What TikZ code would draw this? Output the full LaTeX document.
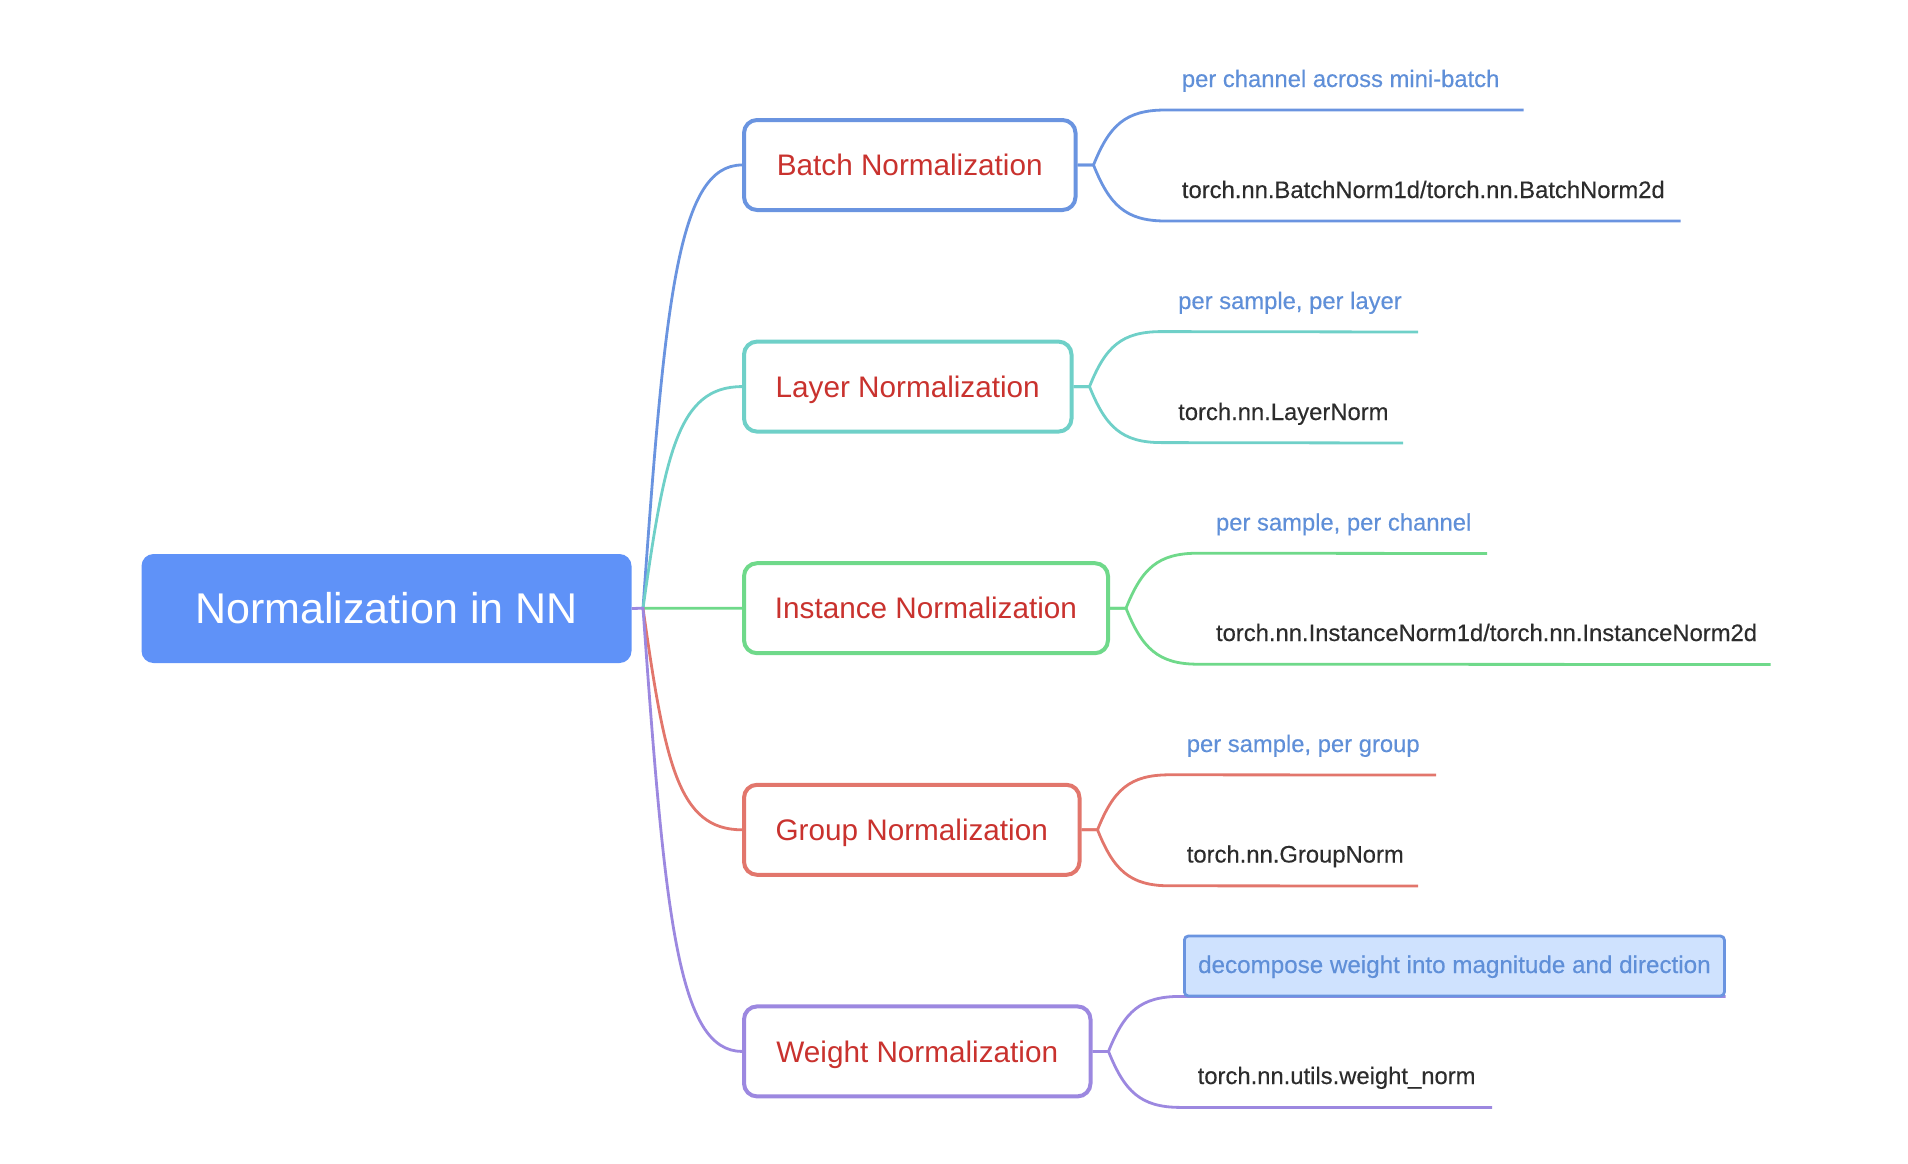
\documentclass[tikz,border=0pt]{standalone}
\usepackage{fontspec}
\setmainfont{Liberation Sans}
\newfontfamily\leaffont[FakeBold=0.35]{Liberation Sans}
\usepackage{tikz}
\usetikzlibrary{shapes,arrows}
\definecolor{rootblue}{HTML}{5F92F8}
\definecolor{batchc}{HTML}{6A94E0}
\definecolor{layerc}{HTML}{6FD0C8}
\definecolor{instc}{HTML}{6FD98A}
\definecolor{groupc}{HTML}{E2766C}
\definecolor{weightc}{HTML}{9C88E0}
\definecolor{redtext}{HTML}{C9322E}
\definecolor{bluetext}{HTML}{5F8FD8}
\definecolor{darktext}{HTML}{2C2C2C}
\definecolor{selfill}{HTML}{CFE2FE}
\tikzstyle{root} = [rectangle, fill=rootblue, text=white, rounded corners=12pt, minimum
    width=490pt, minimum height=109pt, text height=30.5pt, text depth=0pt, font=\fontsize{43}{50}\selectfont]
\tikzstyle{branch} = [rectangle, draw, line width=4pt, fill=white, text=redtext, rounded corners=13pt,
    inner xsep=0pt, minimum height=90pt, text height=21.5pt, text depth=0pt, anchor=west, font=\fontsize{29.7}{36}\selectfont]
\tikzstyle{note} = [anchor=base west, inner sep=0pt, text=bluetext, font=\leaffont\fontsize{23.8}{28}\selectfont]
\tikzstyle{code} = [anchor=base west, inner sep=0pt, text=darktext, font=\leaffont\fontsize{23.8}{28}\selectfont]
\tikzstyle{line} = [draw, line width=2.8pt]
\tikzstyle{trunk} = [draw, line width=2.8pt]
\begin{document}
\begin{tikzpicture}[x=1pt,y=-1pt,auto]
      \useasboundingbox (0,0) rectangle (1908,1164);
      \node [root] (norm) at (386.5,608.5) {Normalization in NN};
      \coordinate (hub) at (643,608.2);

      \node [branch, draw=batchc, minimum width=331.5pt] (batch) at (742,165) {Batch Normalization};
      \node [branch, draw=layerc, minimum width=327.5pt] (layer) at ([yshift=-221.6pt]batch.west) {Layer Normalization};
      \node [branch, draw=instc, minimum width=364pt] (inst) at ([yshift=-221.6pt]layer.west) {Instance Normalization};
      \node [branch, draw=groupc, minimum width=335.5pt] (group) at ([yshift=-221.6pt]inst.west) {Group Normalization};
      \node [branch, draw=weightc, minimum width=346.5pt] (weight) at ([yshift=-221.6pt]group.west) {Weight Normalization};

      \path [trunk, draw=batchc] (hub) .. controls +(22,-310) and +(-64,0) .. (batch.west);
      \path [trunk, draw=layerc] (hub) .. controls +(22,-155) and +(-64,0) .. (layer.west);
      \path [trunk, draw=instc] (hub) -- (inst.west);
      \path [trunk, draw=groupc] (hub) .. controls +(22,155) and +(-64,0) .. (group.west);
      \path [trunk, draw=weightc] (norm.east) -- (hub) .. controls +(22,310) and +(-64,0) .. (weight.west);

      % batch
      \node [note] (batchnote) at (1181.7,87) {per channel across mini-batch};
      \node [code] (batchcode) at (1181.7,198) {torch.nn.BatchNorm1d/torch.nn.BatchNorm2d};
      \coordinate (batchnoteend) at (1523.7,110);
      \coordinate (batchcodeend) at (1680.7,221);
      \path [line, draw=batchc] (batch.east) -- ++(16,0) .. controls +(16,-40) and +(-40,0) .. ++(72,-55) -- (batchnoteend);
      \path [line, draw=batchc] (batch.east) -- ++(16,0) .. controls +(16,40) and +(-40,0) .. ++(72,56) -- (batchcodeend);

      % layer
      \node [note] (layernote) at (1178,309) {per sample, per layer};
      \node [code] (layercode) at (1178,420) {torch.nn.LayerNorm};
      \coordinate (layernoteend) at (1418,332);
      \coordinate (layercodeend) at (1403,443);
      \path [line, draw=layerc] (layer.east) -- ++(16,0) .. controls +(16,-40) and +(-40,0) .. ++(72,-55) -- (layernoteend);
      \path [line, draw=layerc] (layer.east) -- ++(16,0) .. controls +(16,40) and +(-40,0) .. ++(72,56) -- (layercodeend);

      % instance
      \node [note] (instnote) at (1215.8,530.5) {per sample, per channel};
      \node [code] (instcode) at (1215.8,641) {torch.nn.InstanceNorm1d/torch.nn.InstanceNorm2d};
      \coordinate (instnoteend) at (1487,553.5);
      \coordinate (instcodeend) at (1770.7,664.5);
      \path [line, draw=instc] (inst.east) -- ++(16,0) .. controls +(16,-40) and +(-40,0) .. ++(72,-55) -- (instnoteend);
      \path [line, draw=instc] (inst.east) -- ++(16,0) .. controls +(16,40) and +(-40,0) .. ++(72,56) -- (instcodeend);

      % group
      \node [note] (groupnote) at (1186.6,752) {per sample, per group};
      \node [code] (groupcode) at (1186.6,862.5) {torch.nn.GroupNorm};
      \coordinate (groupnoteend) at (1436,775);
      \coordinate (groupcodeend) at (1418,886);
      \path [line, draw=groupc] (group.east) -- ++(16,0) .. controls +(16,-40) and +(-40,0) .. ++(72,-55) -- (groupnoteend);
      \path [line, draw=groupc] (group.east) -- ++(16,0) .. controls +(16,40) and +(-40,0) .. ++(72,56) -- (groupcodeend);

      % weight
      \coordinate (weightnoteend) at (1725.7,996.5);
      \coordinate (weightcodeend) at (1492,1107.5);
      \path [line, draw=weightc] (weight.east) -- ++(16,0) .. controls +(16,-40) and +(-40,0) .. ++(72,-55) -- (weightnoteend);
      \path [line, draw=weightc] (weight.east) -- ++(16,0) .. controls +(16,40) and +(-40,0) .. ++(72,56) -- (weightcodeend);
      \node [note, anchor=west, draw=batchc, line width=2.8pt, fill=selfill, rounded corners=4pt, minimum width=540pt, minimum height=60pt, text height=14pt, text depth=0pt, font=\leaffont\fontsize{24.2}{28}\selectfont] (weightnote) at (1183,966) {decompose weight into magnitude and direction};
      \node [code] (weightcode) at (1197.5,1084) {torch.nn.utils.weight\_norm};
\end{tikzpicture}
\end{document}
